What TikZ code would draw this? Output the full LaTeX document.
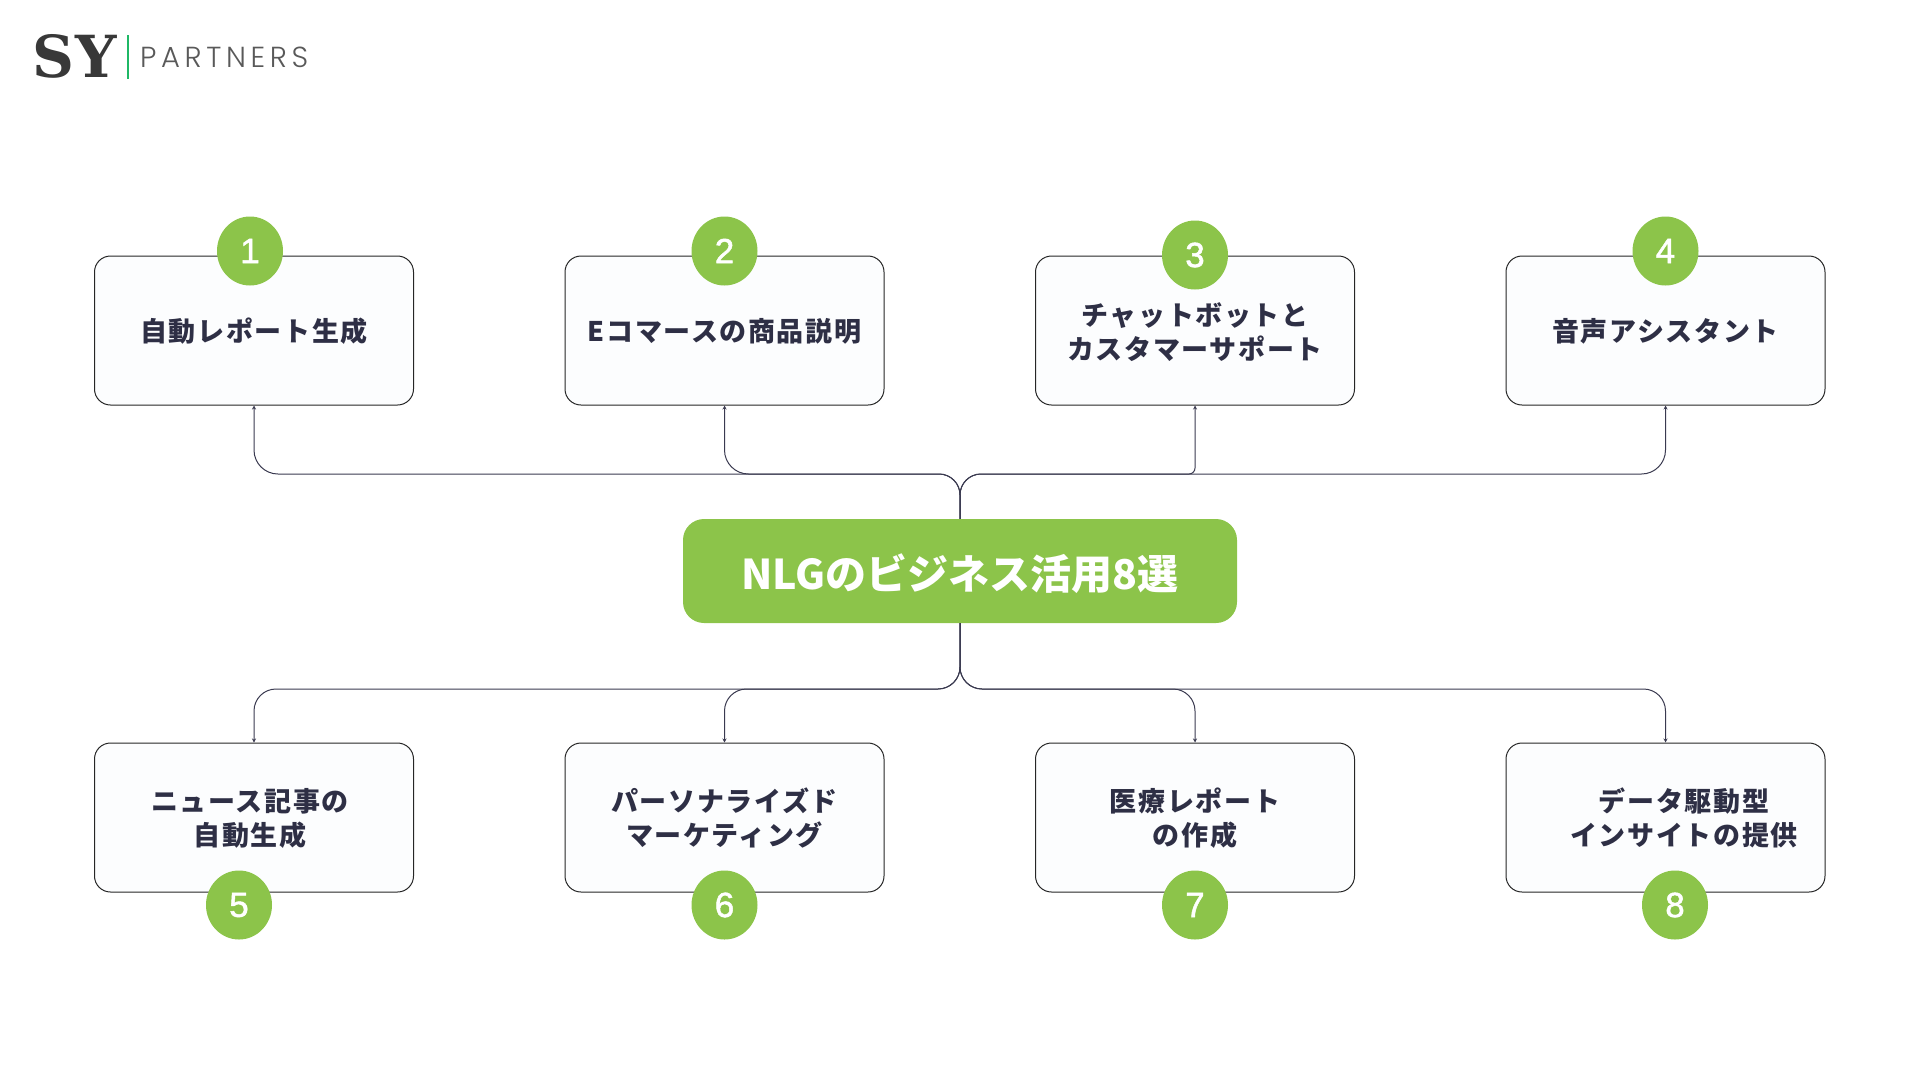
\documentclass[tikz,border=0pt]{standalone}
\usepackage{fontspec}
\usetikzlibrary{arrows.meta,shapes.geometric}
\newfontfamily\cjk[LetterSpace=6]{Noto Sans CJK JP}
\newfontfamily\hubfont{Noto Sans CJK JP}
\newfontfamily\logofont[UprightFont=* Light]{Poppins}
\newfontfamily\syfont{DejaVu Serif}
\newfontfamily\numfont[FakeBold=1.5]{Liberation Sans}
\definecolor{leaf}{HTML}{8CC44A}
\definecolor{ink}{HTML}{2E2F45}
\definecolor{wire}{HTML}{3A3A50}
\definecolor{paper}{HTML}{FCFDFE}
\definecolor{logobar}{HTML}{1FB866}
\tikzset{
	card/.style={draw=black!85,fill=paper,line width=1pt,rounded corners=16,minimum width=319,minimum height=149,inner sep=0},
	cardtext/.style={text=ink,align=center,font=\cjk\bfseries\fontsize{27}{34}\selectfont,inner sep=0},
	badge/.style={ellipse,fill=leaf,text=white,minimum width=66,minimum height=69,inner sep=0,font=\numfont\fontsize{35}{35}\selectfont},
	link/.style={draw=wire,line width=1pt,-{Stealth[length=4pt,width=4pt]}},
}
\begin{document}
\begin{tikzpicture}[x=1pt,y=-1pt]
	\useasboundingbox (0,0) rectangle (1920,1080);

	% logo
	\node[inner sep=0,text=black!78] (sy) at (75,56) {\syfont\bfseries\addfontfeature{LetterSpace=2}\fontsize{58}{58}\selectfont SY};
	\node[inner sep=0,anchor=west,text=black!65] (partners) at (140,57) {\logofont\addfontfeature{LetterSpace=16}\fontsize{29}{29}\selectfont PARTNERS};
	\coordinate (bartop) at (128,35);
	\coordinate (barbot) at (128,79);
	\draw[line width=2.5pt,color=logobar] (bartop) -- (barbot);

	% centre
	\node[fill=leaf,rounded corners=21,minimum width=554,minimum height=104,inner sep=0,text=white,font=\hubfont\bfseries\fontsize{41}{41}\selectfont] (hub) at (960,571) {\raisebox{-2.5pt}[\height][\depth]{NLGのビジネス活用8選}};
	\coordinate (upbus) at (960,474);
	\coordinate (downbus) at (960,689);

	% top row
	\foreach \i/\x/\r/\ybadge/\ytext/\label in {1/254/24/251/331/{自動レポート生成},2/724.5/24/251/331/{Eコマースの商品説明},3/1195/6/255/332/{チャットボットと\\カスタマーサポート},4/1665.5/24/251/331/{音声アシスタント}} {
		\node[card] (box\i) at (\x,330.5) {};
		\node[cardtext] (text\i) at (\x,\ytext) {\label};
		\node[badge] (num\i) at (\ifnum\i=1 250\else\x\fi,\ybadge) {\i};
		\draw[link,rounded corners=21] (hub.north) -- (upbus) [rounded corners=\r] -- (upbus-|box\i.south) -- (box\i.south);
	}

	% bottom row
	\foreach \i/\x/\xnum/\xtext/\label in {5/254/239/250/{ニュース記事の\\自動生成},6/724.5/724.5/724.5/{パーソナライズド\\マーケティング},7/1195/1195/1195/{医療レポート\\の作成},8/1665.5/1675/1684/{データ駆動型\\インサイトの提供}} {
		\node[card] (box\i) at (\x,817.5) {};
		\node[cardtext] (text\i) at (\xtext,818) {\label};
		\node[badge] (num\i) at (\xnum,905) {\i};
		\draw[link,rounded corners=22] (hub.south) -- (downbus) -- (downbus-|box\i.north) -- (box\i.north);
	}
\end{tikzpicture}
\end{document}
